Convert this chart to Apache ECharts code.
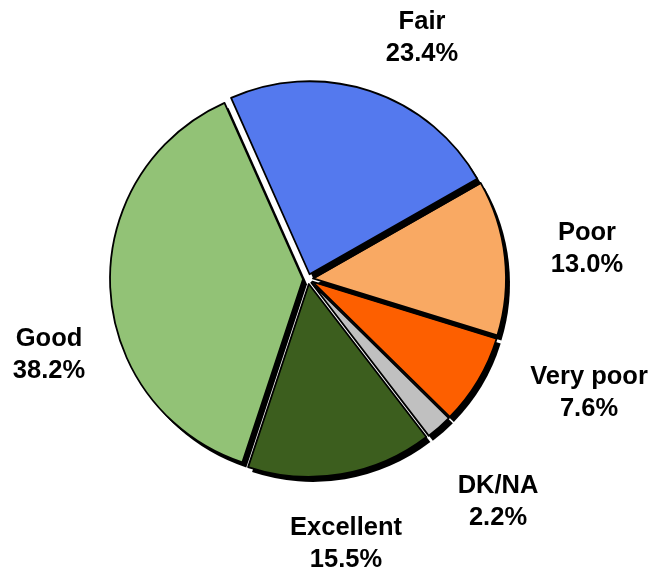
<!DOCTYPE html>
<html>
<head>
<meta charset="utf-8">
<script src="https://cdn.jsdelivr.net/npm/echarts@6/dist/echarts.min.js"></script>
<style>
  html, body { margin: 0; padding: 0; background: #fff; }
  #chart { width: 652px; height: 573px; }
</style>
</head>
<body>
<div id="chart"></div>
<script>
// listed clockwise from the top, as in the picture
const categories = ['Fair', 'Poor', 'Very poor', 'DK/NA', 'Excellent', 'Good'];
const values = [23.4, 13.0, 7.6, 2.2, 15.5, 38.2];
const colors = ['#5479EE', '#F9A963', '#FD5F00', '#C0C0C0', '#3C5E1E', '#92C276'];

// centre of each label's text box, picked to match the picture
const labelSpots = {
  'Fair': [422, 38],
  'Poor': [587, 249],
  'Very poor': [589, 393],
  'DK/NA': [498, 502],
  'Excellent': [346, 544],
  'Good': [49, 355]
};

const chart = echarts.init(document.getElementById('chart'));

const pieCenter = [308, 279];
const pieRadius = 193;
const fairStart = 114;
const explode = 5;

// draw in reverse (counter-clockwise) so each slice's shadow lies on its clockwise neighbour
const order = categories.map((c, i) => i).reverse();

// the shared pie setup, one copy per layer
function pieLayer(extra) {
  return Object.assign({
    type: 'pie',
    center: pieCenter,
    radius: pieRadius,
    startAngle: fairStart,
    clockwise: false,
    avoidLabelOverlap: false,
    emphasis: { disabled: true },
    label: { show: false },
    labelLine: { show: false }
  }, extra);
}

const option = {
  animation: false,
  series: [
    // fills with the hard black drop shadow, every slice pulled out a little
    pieLayer({
      selectedMode: 'multiple',
      selectedOffset: explode,
      itemStyle: {
        borderWidth: 0,
        shadowColor: '#000',
        shadowBlur: 0,
        shadowOffsetX: 4,
        shadowOffsetY: 5
      },
      data: order.map(i => ({
        name: categories[i],
        value: values[i],
        selected: true,
        itemStyle: { color: colors[i] }
      }))
    }),
    // black outlines on top, no shadow
    pieLayer({
      silent: true,
      selectedMode: 'multiple',
      selectedOffset: explode,
      itemStyle: { color: 'rgba(0,0,0,0)', borderColor: '#000', borderWidth: 1.8 },
      select: { itemStyle: { color: 'rgba(0,0,0,0)', borderColor: '#000', borderWidth: 1.8 } },
      data: order.map(i => ({
        name: categories[i],
        value: values[i],
        selected: true
      }))
    }),
    // invisible copy that only carries the labels
    pieLayer({
      silent: true,
      itemStyle: { color: 'rgba(0,0,0,0)', borderWidth: 0 },
      label: {
        show: true,
        position: 'outside',
        formatter: p => p.name + '\n' + p.value.toFixed(1) + '%',
        fontFamily: 'Liberation Sans, Arial, sans-serif',
        fontWeight: 'bold',
        fontSize: 25.5,
        lineHeight: 32,
        color: '#000',
        align: 'center'
      },
      labelLayout: params => {
        const spot = labelSpots[categories[order[params.dataIndex]]];
        return { x: spot[0], y: spot[1], align: 'center', verticalAlign: 'middle' };
      },
      data: order.map(i => ({ name: categories[i], value: values[i] }))
    })
  ]
};

chart.setOption(option);
</script>
</body>
</html>
